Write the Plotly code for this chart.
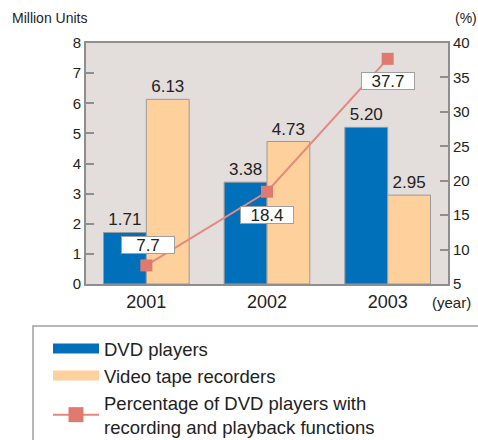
import plotly.graph_objects as go

# ── Data ──────────────────────────────────────────────────────────────────────
years = ["2001", "2002", "2003"]
dvd_players = [1.71, 3.38, 5.20]
vtr = [6.13, 4.73, 2.95]
dvd_rec_pct = [7.7, 18.4, 37.7]
pct_label_shift = [20, -23, -22]

# ── Style tokens ──────────────────────────────────────────────────────────────
_FONT = "Liberation Sans, Arial, sans-serif"
_TEXT = "#222222"
_AXIS = "#8E8E8E"
_PLOT = "#E3DDDB"
_BLUE = "#0070BA"
_PEACH = "#FDD09C"
_RED = "#E07A70"
_REDLINE = "#E8877D"

W, H = 478, 440
L, R, T, B = 86, 30, 43, 156
PW, PH = W - L - R, H - T - B


def px_x(x):
    return (x - L) / PW


def px_y(y):
    return (H - B - y) / PH


fig = go.Figure()

fig.add_trace(go.Bar(
    x=years, y=dvd_players, name="DVD players",
    marker=dict(color=_BLUE, line=dict(color="#9A9A9A", width=1)),
    text=[f"{v:.2f}" for v in dvd_players], textposition="outside",
    textfont=dict(size=17, color=_TEXT), cliponaxis=False,
    showlegend=False,
))
fig.add_trace(go.Bar(
    x=years, y=vtr, name="Video tape recorders",
    marker=dict(color=_PEACH, line=dict(color="#9A9A9A", width=1)),
    text=[f"{v:.2f}" for v in vtr], textposition="outside",
    textfont=dict(size=17, color=_TEXT), cliponaxis=False,
    showlegend=False,
))
fig.add_trace(go.Scatter(
    x=years, y=dvd_rec_pct, yaxis="y2",
    mode="lines+markers",
    line=dict(color=_REDLINE, width=2),
    marker=dict(symbol="square", size=12, color=_RED),
    showlegend=False, cliponaxis=False,
))

# legend-only entries (wide swatches like the original)
fig.add_trace(go.Scatter(
    x=[None], y=[None], mode="lines", name="DVD players",
    line=dict(color=_BLUE, width=10),
))
fig.add_trace(go.Scatter(
    x=[None], y=[None], mode="lines", name="Video tape recorders",
    line=dict(color=_PEACH, width=10),
))
fig.add_trace(go.Scatter(
    x=[None], y=[None], mode="lines+markers",
    name="Percentage of DVD players with<br>recording and playback functions",
    line=dict(color=_REDLINE, width=2),
    marker=dict(symbol="square", size=15, color=_RED),
))

annotations = []
# category strings like "2001" get read as numbers here, so use the index
for i, (v, dy) in enumerate(zip(dvd_rec_pct, pct_label_shift)):
    annotations.append(dict(
        x=i, y=v, xref="x", yref="y2", text=f"{v:.1f}",
        showarrow=False, yshift=dy, xshift=2 if i == 0 else 0,
        width=52, height=16,
        bgcolor="#FFFFFF", bordercolor="#A0A0A0", borderwidth=1, borderpad=0,
        font=dict(size=17, color=_TEXT),
    ))

annotations += [
    dict(text="Million Units", x=px_x(10), y=px_y(18), xref="paper", yref="paper",
         xanchor="left", yanchor="middle", showarrow=False,
         font=dict(size=14, color=_TEXT)),
    dict(text="(%)", x=px_x(466), y=px_y(18), xref="paper", yref="paper",
         xanchor="center", yanchor="middle", showarrow=False,
         font=dict(size=14, color=_TEXT)),
    dict(text="(year)", x=px_x(451), y=px_y(302), xref="paper", yref="paper",
         xanchor="center", yanchor="middle", showarrow=False,
         font=dict(size=15, color=_TEXT)),
]

fig.update_layout(
    width=W, height=H,
    margin=dict(l=L, r=R, t=T, b=B, autoexpand=False),
    paper_bgcolor="#FFFFFF",
    plot_bgcolor=_PLOT,
    font=dict(family=_FONT, color=_TEXT),
    barmode="group",
    bargap=0.29, bargroupgap=0,
    xaxis=dict(
        type="category",
        showline=True, linecolor=_AXIS, linewidth=2, mirror=True,
        ticks="", tickfont=dict(size=18, color=_TEXT),
        range=[-0.5, 2.5],
    ),
    yaxis=dict(
        range=[0, 8], dtick=1, showgrid=False, zeroline=False,
        showline=True, linecolor=_AXIS, linewidth=2,
        ticks="inside", ticklen=8, tickwidth=2, tickcolor=_AXIS,
        tickfont=dict(size=15, color=_TEXT),
    ),
    yaxis2=dict(
        range=[5, 40], dtick=5, overlaying="y", side="right",
        showgrid=False, zeroline=False,
        showline=True, linecolor=_AXIS, linewidth=2,
        ticks="inside", ticklen=8, tickwidth=2, tickcolor=_AXIS,
        tickfont=dict(size=15, color=_TEXT),
    ),
    legend=dict(
        xref="container", yref="container",
        x=48 / W, y=1 - 330 / H, xanchor="left", yanchor="top",
        bgcolor="rgba(0,0,0,0)", borderwidth=0,
        font=dict(size=18.5, color=_TEXT),
        itemwidth=46,
        tracegroupgap=0,
    ),
    shapes=[dict(
        type="rect", xref="paper", yref="paper",
        x0=px_x(33), x1=px_x(490), y0=px_y(326), y1=px_y(460),
        line=dict(color="#A0A0A0", width=1.5), fillcolor="rgba(0,0,0,0)",
        layer="below",
    )],
    annotations=annotations,
    showlegend=True,
)

fig.write_html("out.html", config={"displayModeBar": False},
               post_script="document.body.style.margin='0px';")
